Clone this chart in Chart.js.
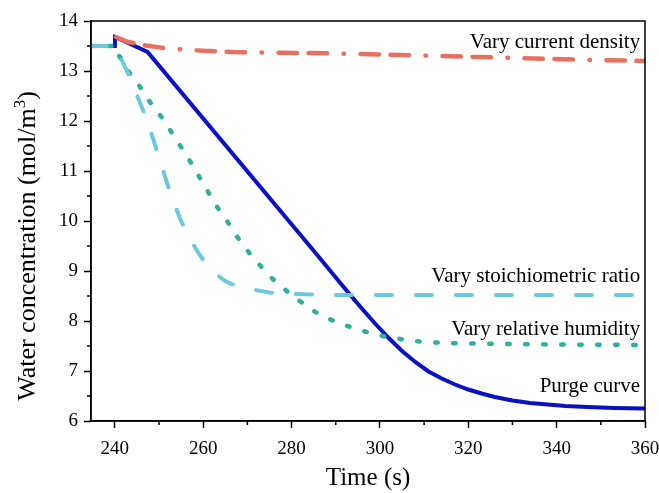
<!DOCTYPE html>
<html>
<head>
<meta charset="utf-8">
<script src="https://cdn.jsdelivr.net/npm/chart.js@4"></script>
<style>
  body { margin: 0; background: #fff; }
</style>
</head>
<body>
<canvas id="chart" width="659" height="493"></canvas>
<script>
// Data
const purgeTime = [234.6, 240, 240.05, 240.8, 247.4, 286, 290, 293, 296, 299, 302, 305, 308, 311, 314, 317, 320, 323, 326, 330, 334, 338, 342, 347, 353, 360];
const purgeConc = [13.5, 13.5, 13.68, 13.65, 13.38, 9.3, 8.87, 8.55, 8.24, 7.94, 7.66, 7.40, 7.18, 6.99, 6.85, 6.73, 6.63, 6.55, 6.48, 6.41, 6.36, 6.33, 6.30, 6.28, 6.26, 6.25];

const currentTime = [240.3, 243, 247, 252, 257, 261, 267, 275, 290, 305, 322, 335, 348, 360];
const currentConc = [13.68, 13.58, 13.51, 13.45, 13.42, 13.4, 13.38, 13.37, 13.35, 13.32, 13.28, 13.25, 13.22, 13.2];

const stoichTime = [234.6, 240.3, 240.8, 243, 245, 247, 249, 251, 253, 255, 257, 259, 261, 263, 265, 267, 270, 275, 280, 290, 360];
const stoichConc = [13.5, 13.5, 13.36, 12.95, 12.52, 12.08, 11.55, 10.99, 10.43, 10.0, 9.64, 9.35, 9.1, 8.93, 8.8, 8.72, 8.65, 8.57, 8.54, 8.52, 8.52];

const humidTime = [234.6, 240.4, 241, 243, 245, 247, 249, 251, 253, 255, 257, 259, 261, 263, 265, 267, 269, 271, 273, 275, 277, 280, 282, 285, 288, 291, 294, 297, 300, 303, 307, 310, 315, 320, 330, 340, 360];
const humidConc = [13.5, 13.5, 13.3, 13.0, 12.78, 12.5, 12.25, 12.03, 11.75, 11.48, 11.2, 10.9, 10.6, 10.3, 10.06, 9.77, 9.52, 9.3, 9.1, 8.9, 8.74, 8.52, 8.39, 8.2, 8.06, 7.95, 7.86, 7.78, 7.71, 7.66, 7.61, 7.58, 7.56, 7.55, 7.54, 7.53, 7.52];

const xTicks = [240, 260, 280, 300, 320, 340, 360];
const yTicks = [6, 7, 8, 9, 10, 11, 12, 13, 14];
const xMinor = [250, 270, 290, 310, 330, 350];
const yMinor = [6.5, 7.5, 8.5, 9.5, 10.5, 11.5, 12.5, 13.5];

const curveLabels = ['Vary current density', 'Vary stoichiometric ratio', 'Vary relative humidity', 'Purge curve'];

const FONT = '"Liberation Serif", "Times New Roman", serif';

function pts(xs, ys) { return xs.map((x, i) => ({x: x, y: ys[i]})); }

// minor ticks, frame, y title and curve labels
const extras = {
  id: 'extras',
  afterDraw(chart) {
    const ctx = chart.ctx, a = chart.chartArea;
    const xs = chart.scales.x, ys = chart.scales.y;
    ctx.save();
    ctx.strokeStyle = '#000';
    ctx.lineWidth = 1.5;
    ctx.strokeRect(a.left, a.top, a.right - a.left, a.bottom - a.top);
    ctx.beginPath();
    xMinor.forEach(v => { const p = xs.getPixelForValue(v); ctx.moveTo(p, a.bottom); ctx.lineTo(p, a.bottom + 4); });
    yMinor.forEach(v => { const p = ys.getPixelForValue(v); ctx.moveTo(a.left, p); ctx.lineTo(a.left - 4, p); });
    ctx.stroke();
    ctx.fillStyle = '#000';
    ctx.font = '21px ' + FONT;
    ctx.textAlign = 'right';
    ctx.textBaseline = 'alphabetic';
    const anchors = [13.455, 8.79, 7.73, 6.59];
    curveLabels.forEach((t, i) => {
      ctx.fillText(t, xs.getPixelForValue(358.9), ys.getPixelForValue(anchors[i]));
    });

    // y axis title with a real superscript
    ctx.translate(35, 246);
    ctx.rotate(-Math.PI / 2);
    const main = 'Water concentration (mol/m', sup = '3', end = ')';
    ctx.font = '26px ' + FONT;
    const w1 = ctx.measureText(main).width, w3 = ctx.measureText(end).width;
    ctx.font = '17px ' + FONT;
    const w2 = ctx.measureText(sup).width;
    let x = -(w1 + w2 + w3) / 2;
    ctx.textAlign = 'left';
    ctx.font = '26px ' + FONT;
    ctx.fillText(main, x, 0);
    ctx.font = '17px ' + FONT;
    ctx.fillText(sup, x + w1, -10);
    ctx.font = '26px ' + FONT;
    ctx.fillText(end, x + w1 + w2, 0);
    ctx.restore();
  }
};

new Chart(document.getElementById('chart'), {
  type: 'line',
  data: {
    datasets: [
      { label: 'Vary stoichiometric ratio', data: pts(stoichTime, stoichConc), borderColor: '#6cc8dc', borderWidth: 4, borderDash: [16, 24], borderCapStyle: 'round', order: 0 },
      { label: 'Vary relative humidity', data: pts(humidTime, humidConc), borderColor: '#2eb09c', borderWidth: 4.5, borderDash: [2.5, 15.5], borderCapStyle: 'round', order: 1 },
      { label: 'Vary current density', data: pts(currentTime, currentConc), borderColor: '#e8705e', borderWidth: 4.5, borderDash: [18.5, 11.5, 18.5, 16.5, 0.5, 16.5], borderCapStyle: 'round', order: 2 },
      { label: 'Purge curve', data: pts(purgeTime, purgeConc), borderColor: '#0a10c4', borderWidth: 4, order: 3 }
    ]
  },
  options: {
    responsive: false,
    animation: false,
    events: [],
    elements: { point: { radius: 0 }, line: { tension: 0, fill: false } },
    layout: { padding: { top: 21, right: 14, left: 0, bottom: 0 } },
    plugins: { legend: { display: false }, tooltip: { enabled: false } },
    scales: {
      x: {
        type: 'linear',
        min: 234.6, max: 360,
        afterBuildTicks: s => { s.ticks = xTicks.map(v => ({value: v})); },
        afterFit: s => { s.height = 72; s.paddingLeft = 0; s.paddingRight = 0; },
        grid: { drawOnChartArea: false, drawTicks: true, tickLength: 7, tickColor: '#000', tickWidth: 1.5 },
        border: { display: true, color: '#000', width: 1.5 },
        ticks: { color: '#000', font: { family: FONT, size: 19 }, padding: 10, maxRotation: 0 },
        title: { display: true, text: 'Time (s)', color: '#000', font: { family: FONT, size: 25 }, padding: { top: 0, bottom: 0 } }
      },
      y: {
        min: 6, max: 14,
        afterBuildTicks: s => { s.ticks = yTicks.map(v => ({value: v})); },
        afterFit: s => { s.width = 91; s.paddingTop = 0; s.paddingBottom = 0; },
        grid: { drawOnChartArea: false, drawTicks: true, tickLength: 7, tickColor: '#000', tickWidth: 1.5 },
        border: { display: true, color: '#000', width: 1.5 },
        ticks: { color: '#000', font: { family: FONT, size: 19 }, padding: 6 },
        title: { display: false }
      }
    }
  },
  plugins: [extras]
});
</script>
</body>
</html>
